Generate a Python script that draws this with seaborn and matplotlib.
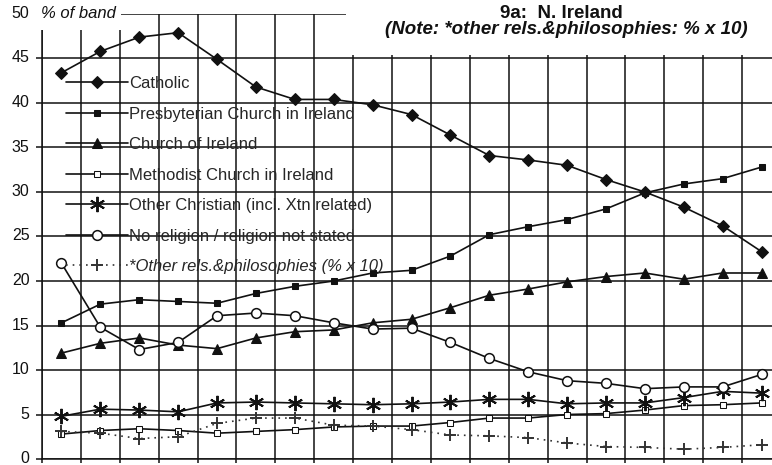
import matplotlib
matplotlib.use("Agg")
import matplotlib.pyplot as plt
import seaborn as sns
import numpy as np
from matplotlib.patches import Rectangle
from matplotlib.transforms import Bbox, TransformedBbox, ScaledTranslation

# --- Data (19 bands) ---
bands = list(range(19))
catholic = [43.4, 45.8, 47.4, 47.9, 44.9, 41.8, 40.4, 40.4, 39.8, 38.7,
            36.4, 34.1, 33.6, 33.0, 31.4, 30.0, 28.3, 26.2, 23.3]
presbyterian = [15.3, 17.4, 17.9, 17.7, 17.5, 18.6, 19.4, 20.0, 20.9, 21.2,
                22.8, 25.2, 26.1, 26.9, 28.1, 29.9, 30.9, 31.5, 32.8]
church_of_ireland = [11.9, 13.0, 13.6, 12.8, 12.4, 13.6, 14.3, 14.5, 15.3, 15.7,
                     17.0, 18.4, 19.1, 19.9, 20.5, 20.9, 20.2, 20.9, 20.9]
methodist = [2.8, 3.2, 3.4, 3.2, 2.9, 3.1, 3.3, 3.6, 3.7, 3.7,
             4.1, 4.6, 4.6, 5.0, 5.1, 5.5, 6.0, 6.1, 6.3]
other_christian = [4.8, 5.6, 5.5, 5.3, 6.3, 6.4, 6.3, 6.2, 6.1, 6.2,
                   6.4, 6.7, 6.7, 6.2, 6.3, 6.3, 6.9, 7.6, 7.4]
no_religion = [22.0, 14.8, 12.3, 13.1, 16.1, 16.4, 16.1, 15.3, 14.6, 14.7,
               13.1, 11.3, 9.8, 8.8, 8.5, 7.9, 8.1, 8.1, 9.5]
other_rels_x10 = [3.1, 2.9, 2.3, 2.5, 4.0, 4.6, 4.6, 3.8, 3.7, 3.3,
                  2.7, 2.6, 2.4, 1.8, 1.4, 1.3, 1.1, 1.3, 1.6]

labels = ["Catholic", "Presbyterian Church in Ireland", "Church of Ireland",
          "Methodist Church in Ireland", "Other Christian (incl. Xtn related)",
          "No religion / religion not stated", "*Other rels.&philosophies (% x 10)"]

sns.set_style("white")
plt.rcParams["font.family"] = ["Liberation Sans", "DejaVu Sans"]

W, H = 772, 465
fig = plt.figure(figsize=(W / 100, H / 100), dpi=100)
# plot area runs a bit past the right edge like in the original
ax = fig.add_axes([42 / W, 6 / H, 739 / W, 445 / H])

ink = "#111111"
series = [
    (catholic, dict(marker="D", markersize=6.5, mfc=ink, linestyle="-")),
    (presbyterian, dict(marker="s", markersize=4.5, mfc=ink, linestyle="-")),
    (church_of_ireland, dict(marker="^", markersize=7.5, mfc=ink, linestyle="-")),
    (methodist, dict(marker="s", markersize=5, mfc="white", linestyle="-")),
    (other_christian, dict(marker=(6, 2, 0), markersize=11, mew=1.4, linestyle="-")),
    (no_religion, dict(marker="o", markersize=7, mfc="white", mew=1.1, linestyle="-")),
    (other_rels_x10, dict(marker="+", markersize=9, mew=1.4, linestyle=(0, (1, 3)), color="#333333")),
]
for (vals, kw), lab in zip(series, labels):
    kw.setdefault("color", ink)
    sns.lineplot(x=bands, y=vals, ax=ax, label=lab, linewidth=1.2, mec=kw["color"], **kw)

ax.set_xlim(-0.5, 18.5)
ax.set_ylim(0, 50)
ax.set_xticks(np.arange(-0.5, 19, 1))
ax.set_xticklabels([])
ax.set_yticks(np.arange(0, 51, 5))
ax.tick_params(axis="y", labelsize=11.5, length=4, width=1.1, pad=5, colors=ink, direction="out", left=True)
ax.tick_params(axis="x", length=3, width=1.1, direction="out", bottom=True, colors=ink)
ax.grid(True, color=ink, linewidth=1.1)
ax.set_axisbelow(True)
for side in ["left", "bottom"]:
    ax.spines[side].set_color(ink)
    ax.spines[side].set_linewidth(1.1)
for side in ["top", "right"]:
    ax.spines[side].set_visible(False)
ax.set_xlabel("")
ax.set_ylabel("")
# nudge tick labels up a little so the "0" stays inside the picture
shift = ScaledTranslation(0, 2 / 100, fig.dpi_scale_trans)
for lbl in ax.get_yticklabels():
    lbl.set_transform(lbl.get_transform() + shift)

leg = ax.legend(loc="upper left", bbox_to_anchor=(66 / W, 1 - 76 / H),
                bbox_transform=fig.transFigure, frameon=False, fontsize=12,
                handlelength=3.7, handletextpad=0.1, labelspacing=0.93,
                borderpad=0, borderaxespad=0)
texts = leg.get_texts()
texts[-1].set_fontstyle("italic")
clip = TransformedBbox(Bbox([[0, 0], [353 / W, 1]]), fig.transFigure)
for i in (1, 5):
    texts[i].set_clip_box(clip)
    texts[i].set_clip_on(True)

# white boxes behind the header texts (they hide the top of the grid)
fig.add_artist(Rectangle((35 / W, 1 - 30 / H), 86 / W, 30 / H, transform=fig.transFigure,
                         facecolor="white", edgecolor="none", zorder=5))
fig.add_artist(Rectangle((346 / W, 1 - 55 / H), 430 / W, 55 / H, transform=fig.transFigure,
                         facecolor="white", edgecolor="none", zorder=5))

fig.text(41 / W, 1 - 13 / H, "% of band", fontsize=12, style="italic", color=ink,
         va="center", ha="left", zorder=6)
fig.text(561 / W, 1 - 13 / H, "9a:  N. Ireland", fontsize=13.5, weight="bold", color=ink,
         va="center", ha="center", zorder=6)
fig.text(566 / W, 1 - 30 / H, "(Note: *other rels.&philosophies: % x 10)", fontsize=13.5,
         weight="bold", style="italic", color=ink, va="center", ha="center", zorder=6)

plt.savefig("out.png", dpi=100)
plt.close()
